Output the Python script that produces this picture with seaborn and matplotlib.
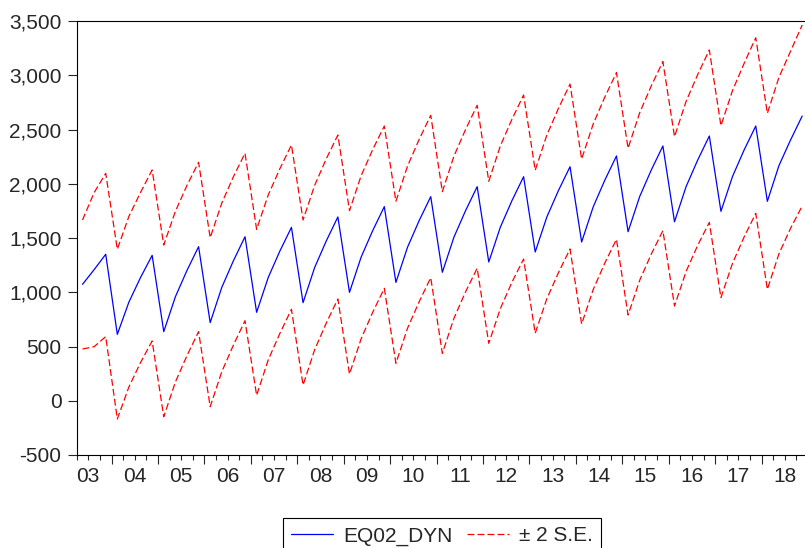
import matplotlib
matplotlib.use("Agg")
import numpy as np
import pandas as pd
import seaborn as sns
import matplotlib.pyplot as plt
from matplotlib.lines import Line2D
from matplotlib.ticker import FuncFormatter
import matplotlib.transforms as mtransforms

# Quartale 2003Q2 - 2018Q4
quartale = ([f"2003Q{q}" for q in (2, 3, 4)]
            + [f"{j}Q{q}" for j in range(2004, 2019) for q in (1, 2, 3, 4)])

# Prognose EQ02_DYN
prognose = [
    1073, 1208, 1350,
    612, 910, 1136, 1340,
    637, 958, 1201, 1420,
    720, 1045, 1290, 1512,
    815, 1136, 1379, 1598,
    904, 1228, 1473, 1694,
    999, 1323, 1568, 1789,
    1091, 1415, 1660, 1881,
    1184, 1508, 1752, 1973,
    1279, 1601, 1845, 2065,
    1371, 1693, 1937, 2157,
    1463, 1788, 2034, 2256,
    1558, 1882, 2127, 2348,
    1650, 1974, 2219, 2440,
    1746, 2068, 2312, 2532,
    1838, 2168, 2404, 2624]

# obere Grenze (+2 S.E.)
obere = [
    1666, 1918, 2096,
    1396, 1700, 1920, 2127,
    1435, 1745, 1985, 2198,
    1503, 1822, 2065, 2281,
    1580, 1896, 2138, 2357,
    1666, 1985, 2230, 2449,
    1752, 2073, 2315, 2532,
    1838, 2163, 2408, 2631,
    1927, 2255, 2500, 2723,
    2023, 2350, 2595, 2818,
    2124, 2448, 2694, 2919,
    2228, 2552, 2800, 3024,
    2327, 2654, 2902, 3126,
    2434, 2760, 3007, 3233,
    2535, 2860, 3110, 3346,
    2649, 2982, 3222, 3463]

# untere Grenze (-2 S.E.)
untere = [
    477, 498, 591,
    -168, 128, 352, 551,
    -147, 172, 416, 637,
    -55, 268, 513, 738,
    50, 376, 620, 843,
    145, 470, 716, 938,
    246, 570, 815, 1036,
    345, 668, 912, 1134,
    437, 760, 1004, 1221,
    529, 850, 1093, 1306,
    622, 940, 1180, 1399,
    707, 1026, 1270, 1488,
    790, 1110, 1352, 1568,
    873, 1192, 1433, 1644,
    950, 1268, 1510, 1727,
    1027, 1355, 1590, 1795]

jahr_labels = ["03", "04", "05", "06", "07", "08", "09", "10",
               "11", "12", "13", "14", "15", "16", "17", "18"]

df = pd.DataFrame({
    "quartal": quartale,
    "pos": np.arange(len(quartale)),
    "prognose": prognose,
    "obere": obere,
    "untere": untere})

sns.set_style("ticks")
plt.rcParams["font.family"] = ["Liberation Sans", "DejaVu Sans"]

W, H = 805, 548
fig = plt.figure(figsize=(W / 100, H / 100), dpi=100)
links, oben, unten, rechts = 76.7, 21, 455, 808
ax = fig.add_axes([links / W, 1 - unten / H, (rechts - links) / W, (unten - oben) / H])

rot = "#ff0000"
blau = "#0000ff"
sns.lineplot(data=df, x="pos", y="obere", ax=ax, color=rot, lw=0.9)
sns.lineplot(data=df, x="pos", y="untere", ax=ax, color=rot, lw=0.9)
for l in ax.lines:
    l.set_dashes((5.5, 2.5))
sns.lineplot(data=df, x="pos", y="prognose", ax=ax, color=blau, lw=0.9)

ax.set_xlim(-0.5, len(quartale) - 0.5)
ax.set_ylim(-500, 3500)
ax.set_yticks(np.arange(-500, 3501, 500))
ax.yaxis.set_major_formatter(FuncFormatter(lambda v, p: f"{int(v):,}"))
ax.set_xlabel("")
ax.set_ylabel("")

# Jahresgrenzen als Hauptticks, Quartale als Nebenticks
grenzen = np.arange(2.5, len(quartale), 4)
ax.set_xticks(grenzen)
ax.set_xticklabels([])
ax.set_xticks(np.arange(-0.5, len(quartale), 1), minor=True)
ax.tick_params(axis="x", which="major", length=6.5, width=0.8, direction="out")
ax.tick_params(axis="x", which="minor", length=3.6, width=0.8, direction="out")
ax.tick_params(axis="y", length=6.5, width=0.8, pad=4.5, labelsize=15)

trans = mtransforms.blended_transform_factory(ax.transData, ax.transAxes)
for i, lab in enumerate(jahr_labels):
    ax.text(0.5 + 4 * i, -21 / (unten - oben), lab, transform=trans,
            ha="center", va="center", fontsize=15)

for s in ax.spines.values():
    s.set_linewidth(0.8)
    s.set_color("black")

handles = [Line2D([], [], color=blau, lw=0.9),
           Line2D([], [], color=rot, lw=0.9, dashes=(5.5, 2.5))]
leg = fig.legend(handles, ["EQ02_DYN", "± 2 S.E."], ncol=2,
                 loc="upper center", bbox_to_anchor=(442 / W, 1 - 518 / H),
                 fontsize=15, frameon=True, fancybox=False, edgecolor="black",
                 framealpha=1, handlelength=2.0, handletextpad=0.5,
                 columnspacing=0.7, borderpad=0.4, borderaxespad=0)
leg.get_frame().set_linewidth(0.8)

fig.savefig("out.png", dpi=100)
